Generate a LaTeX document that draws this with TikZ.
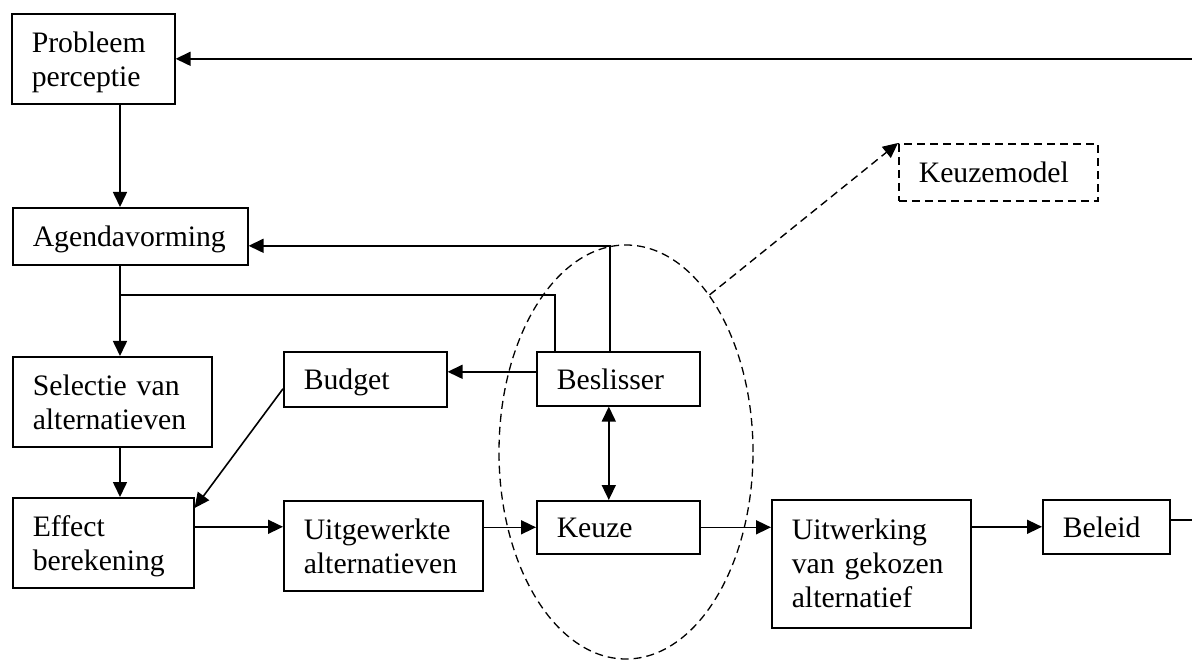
\documentclass[tikz,border=0pt]{standalone}
\usepackage{fontspec}
\setmainfont{Liberation Serif}
\usetikzlibrary{arrows.meta,shapes.geometric}

\tikzset{
  blok/.style={draw, line width=1.6pt, anchor=north west, align=left,
    inner xsep=20pt, inner ysep=0pt,
    font=\fontsize{29.7}{34}\selectfont},
  eenregel/.style={text depth=0pt},
  tweeregels/.style={text height=20pt, text depth=32pt},
  stipblok/.style={blok, eenregel, dash pattern=on 8pt off 5pt},
  lijn/.style={line width=1.6pt},
  pijl/.style={lijn, -{Triangle[length=15pt,width=14pt]}},
  dubbelpijl/.style={lijn, {Triangle[length=15pt,width=14pt]}-{Triangle[length=15pt,width=14pt]}},
  stippijl/.style={line width=1.4pt, dash pattern=on 8pt off 5pt, -{Triangle[length=15pt,width=14pt]}},
  kring/.style={draw, ellipse, line width=1.3pt, dash pattern=on 8pt off 5pt,
    minimum width=254pt, minimum height=414pt, inner sep=0pt}
}

\begin{document}
\begin{tikzpicture}[x=1pt, y=-1pt]
\useasboundingbox (0,0) rectangle (1192,660);
\clip (0,0) rectangle (1192,660);

% blokken
\node[blok, tweeregels, text width=123pt, minimum height=90pt] (prob) at (11,13) {Probleem\\perceptie};
\node[blok, eenregel, text width=195pt, minimum height=57pt] (agenda) at (12,207) {Agendavorming};
\node[blok, tweeregels, text width=159pt, minimum height=90pt] (selectie) at (12,356) {Selectie van\\alternatieven};
\node[blok, tweeregels, text width=141pt, minimum height=90pt] (effect) at (12,497) {Effect\\berekening};
\node[blok, eenregel, text width=123pt, minimum height=55pt] (budget) at (283,351) {Budget};
\node[blok, tweeregels, text width=159pt, minimum height=90pt] (uitgew) at (283,500) {Uitgewerkte\\alternatieven};
\node[blok, eenregel, text width=123pt, minimum height=54pt] (besl) at (536,351) {Beslisser};
\node[blok, eenregel, text width=123pt, minimum height=53pt] (keuze) at (536,500) {Keuze};
\node[blok, text width=159pt, minimum height=128pt] (uitwerk) at (771,499) {Uitwerking\\van gekozen\\alternatief};
\node[blok, eenregel, text width=87pt, minimum height=54pt] (beleid) at (1042,499) {Beleid};
\node[stipblok, text width=159pt, minimum height=57pt] (model) at (898,143) {Keuzemodel};
\node[kring] (keuzekring) at (626,452) {};

\coordinate (knoop) at (120,295);
\coordinate (rand) at (1230,0);

% verbindingen
\draw[pijl] (prob.south -| knoop) -- (agenda.north -| knoop);
\draw[pijl] (agenda.south -| knoop) -- (selectie.north -| knoop);
\draw[pijl] (selectie.south -| knoop) -- (effect.north -| knoop);
\draw[lijn] ([xshift=-63.5pt]besl.north) |- (knoop);
\draw[pijl] ([xshift=-8.5pt]besl.north) |- ([yshift=-9.5pt]agenda.east);
\draw[pijl] ([yshift=7pt]besl.west) -- ([yshift=7pt]besl.west -| budget.east);
\draw[pijl] ([yshift=-9.5pt]budget.west) -- ([yshift=-11pt]effect.north east);
\draw[pijl] ([yshift=16pt]effect.east) -- ([yshift=16pt]effect.east -| uitgew.west);
\draw[pijl] (uitgew.east |- keuze.west) -- (keuze.west);
\draw[dubbelpijl] ([xshift=-9.5pt]besl.south) -- ([xshift=-9.5pt]besl.south |- keuze.north);
\draw[pijl] (keuze.east) -- (keuze.east -| uitwerk.west);
\draw[pijl] (uitwerk.east |- beleid.west) -- (beleid.west);
\draw[pijl] ([yshift=7pt]beleid.east) -| (rand) |- (prob.east);
\draw[stippijl] (keuzekring.62) -- (model.north west);
\end{tikzpicture}
\end{document}
